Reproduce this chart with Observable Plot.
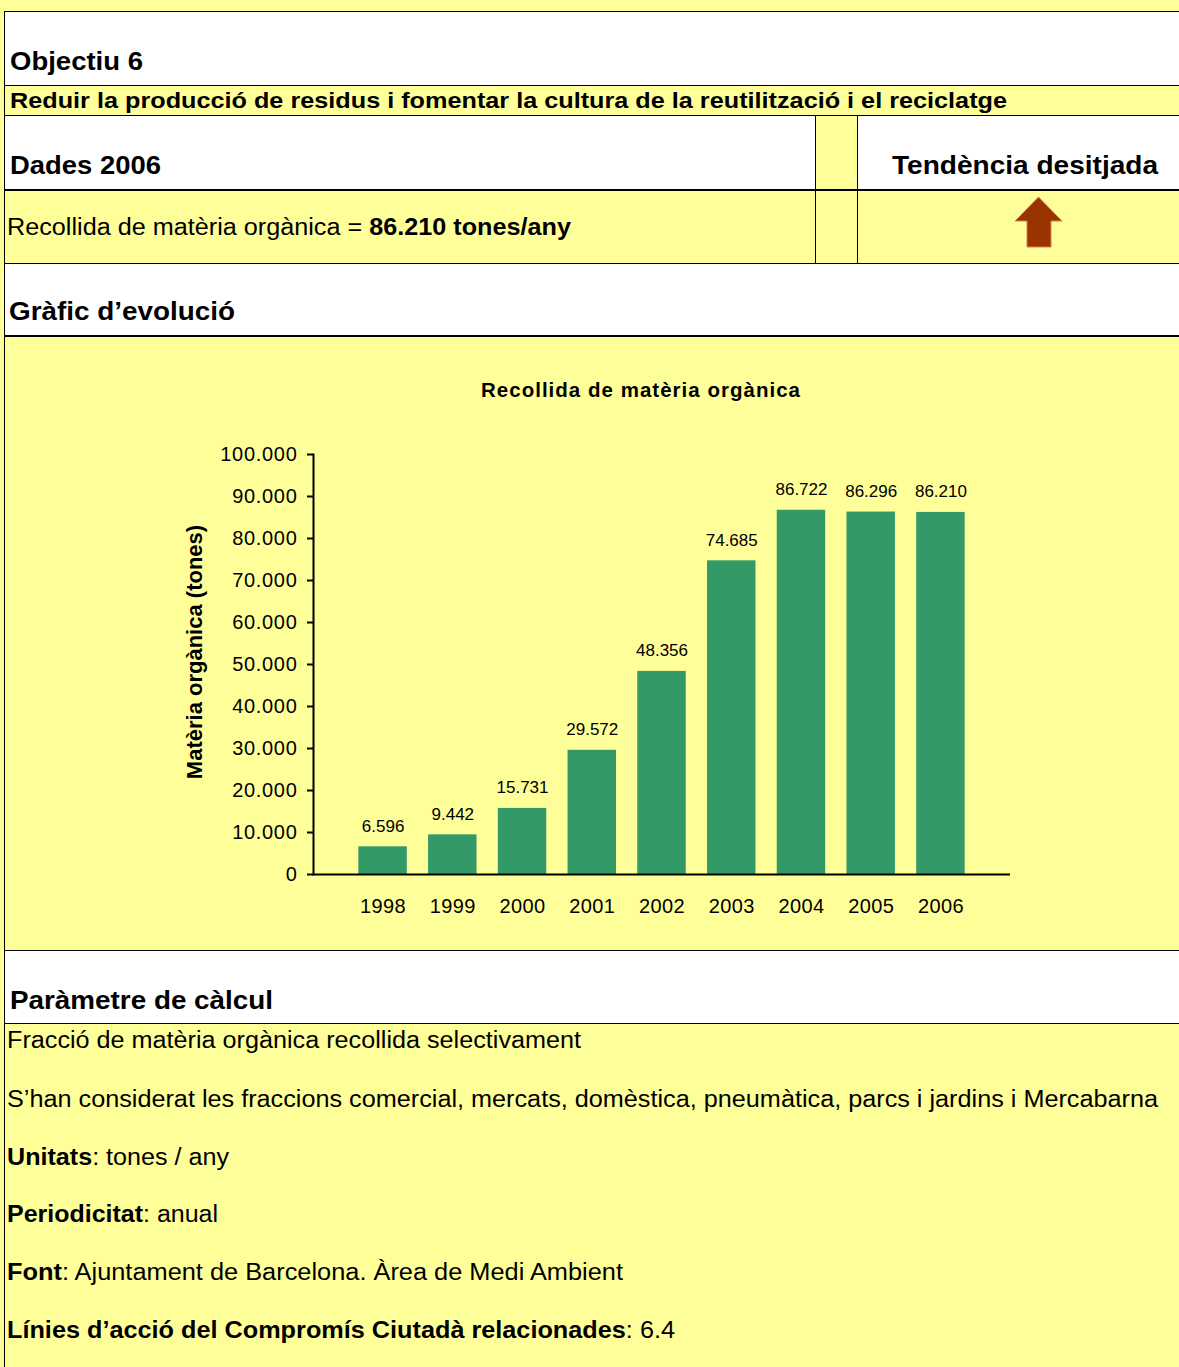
<!DOCTYPE html>
<html>
<head>
<meta charset="utf-8">
<script src="https://cdn.jsdelivr.net/npm/d3@7"></script>
<script src="https://cdn.jsdelivr.net/npm/@observablehq/plot@0.6"></script>
<style>
html, body { margin: 0; padding: 0; }
body { width: 1179px; height: 1367px; background: #FFFF99; position: relative; overflow: hidden;
       font-family: "Liberation Sans", Arial, sans-serif; color: #000; }
.box { position: absolute; background: #fff; }
.ln { position: absolute; background: #000; }
.t { position: absolute; white-space: nowrap; line-height: 1; }
.t > span { display: inline-block; transform-origin: 0 50%; }
#chart { position: absolute; left: 0; top: 338px; }
#chart g[aria-label="y-axis tick label"] text { letter-spacing: 0.7px; }
#chart g[aria-label="x-axis tick label"] text { letter-spacing: 0.4px; }
</style>
</head>
<body>
<script>
// ---------- data ----------
const years = ["1998", "1999", "2000", "2001", "2002", "2003", "2004", "2005", "2006"];
const tonnes = [6596, 9442, 15731, 29572, 48356, 74685, 86722, 86296, 86210];
const yTicks = [0, 10000, 20000, 30000, 40000, 50000, 60000, 70000, 80000, 90000, 100000];
const chartTitle = "Recollida de matèria orgànica";
const yLabel = "Matèria orgànica (tones)";

const objectiveTitle = "Objectiu 6";
const objectiveText = "Reduir la producció de residus i fomentar la cultura de la reutilització i el reciclatge";
const dataHeader = "Dades 2006";
const trendHeader = "Tendència desitjada";
const indicatorLabel = "Recollida de matèria orgànica = ";
const indicatorValue = "86.210 tones/any";
const chartHeader = "Gràfic d’evolució";
const paramHeader = "Paràmetre de càlcul";
const paramLines = [
  "Fracció de matèria orgànica recollida selectivament",
  "S’han considerat les fraccions comercial, mercats, domèstica, pneumàtica, parcs i jardins i Mercabarna"
];
const infoLabels = ["Unitats", "Periodicitat", "Font", "Línies d’acció del Compromís Ciutadà relacionades"];
const infoValues = ["tones / any", "anual", "Ajuntament de Barcelona. Àrea de Medi Ambient", "6.4"];

// ---------- page frame ----------
const body = document.body;
function el(cls, l, t, w, h) {
  const d = document.createElement("div");
  d.className = cls;
  Object.assign(d.style, {left: l + "px", top: t + "px", width: w + "px", height: h + "px"});
  body.appendChild(d);
  return d;
}
// white rows
el("box", 5, 12, 1174, 73);
el("box", 5, 116, 810, 73);
el("box", 858, 116, 321, 73);
el("box", 5, 264, 1174, 72);
el("box", 5, 951, 1174, 72);
// horizontal rules
[[11, 1], [85, 1], [115, 1], [189, 2], [263, 1], [335, 2], [950, 1], [1023, 1]]
  .forEach(([y, h]) => el("ln", 4, y, 1175, h));
// vertical rules
el("ln", 4, 11, 1, 1356);
el("ln", 815, 115, 1, 148);
el("ln", 857, 115, 1, 148);

// arrow icon
const NS = "http://www.w3.org/2000/svg";
const icon = document.createElementNS(NS, "svg");
icon.setAttribute("width", 1179); icon.setAttribute("height", 300);
icon.style.position = "absolute"; icon.style.left = "0"; icon.style.top = "0";
const poly = document.createElementNS(NS, "polygon");
poly.setAttribute("points", "1038.5,197 1062,221 1051,221 1051,247 1027,247 1027,221 1015,221");
poly.setAttribute("fill", "#993300");
poly.setAttribute("stroke", "#D98050");
poly.setAttribute("stroke-width", "1");
icon.appendChild(poly);
body.appendChild(icon);

// ---------- text ----------
function addText(parts, {x, baseline, size, bold, width, spacing}) {
  const d = document.createElement("div");
  d.className = "t";
  d.style.left = x + "px";
  d.style.top = (baseline - 0.8465 * size) + "px";
  d.style.fontSize = size + "px";
  if (spacing) d.style.letterSpacing = spacing + "px";
  const s = document.createElement("span");
  parts.forEach(([txt, b]) => {
    const p = document.createElement("span");
    p.textContent = txt;
    if (b ?? bold) p.style.fontWeight = "bold";
    s.appendChild(p);
  });
  d.appendChild(s);
  body.appendChild(d);
  const w = s.getBoundingClientRect().width;
  s.style.transform = `scaleX(${width / w})`;
}
addText([[objectiveTitle]], {x: 10, baseline: 70, size: 26, bold: true, width: 133});
addText([[objectiveText]], {x: 10, baseline: 108.5, size: 22, bold: true, width: 997});
addText([[dataHeader]], {x: 10, baseline: 174, size: 26, bold: true, width: 151});
addText([[trendHeader]], {x: 892, baseline: 174.5, size: 26, bold: true, width: 266});
addText([[indicatorLabel, false], [indicatorValue, true]], {x: 7, baseline: 235, size: 23, width: 564});
addText([[chartHeader]], {x: 9, baseline: 320.5, size: 26, bold: true, width: 226});
addText([[chartTitle]], {x: 481, baseline: 397, size: 20, bold: true, width: 320, spacing: 1});
addText([[paramHeader]], {x: 10, baseline: 1009, size: 26, bold: true, width: 263});
addText([[paramLines[0]]], {x: 7, baseline: 1048.5, size: 23, width: 574});
addText([[paramLines[1]]], {x: 7, baseline: 1107, size: 23, width: 1151});
const infoLayout = [[1165, 222], [1222.5, 211], [1280.5, 616], [1338.5, 668]];
infoLabels.forEach((lab, i) => {
  addText([[lab, true], [": " + infoValues[i], false]],
          {x: 7, baseline: infoLayout[i][0], size: 23, width: infoLayout[i][1]});
});

// ---------- chart ----------
const data = years.map((year, i) => ({year, value: tonnes[i]}));
const fmt = d3.formatLocale({decimal: ",", thousands: ".", grouping: [3], currency: ["", ""]}).format(",d");

const chart = Plot.plot({
  width: 1179,
  height: 612,
  marginTop: 116,
  marginBottom: 76,
  marginLeft: 313,
  marginRight: 169,
  style: {background: "transparent", fontFamily: "'Liberation Sans', Arial, sans-serif", color: "#000", overflow: "visible"},
  x: {domain: years, paddingInner: 0.305, paddingOuter: 0.65, round: false},
  y: {domain: [0, 100000]},
  marks: [
    Plot.barY(data, {x: "year", y: "value", fill: "#339966"}),
    Plot.ruleY([0], {stroke: "#000", strokeWidth: 2}),
    Plot.frame({anchor: "left", stroke: "#000", strokeWidth: 2}),
    Plot.axisY({ticks: yTicks, tickFormat: fmt, tickSize: 6, tickPadding: 10, fontSize: 20,
                stroke: "#000", strokeWidth: 2, strokeOpacity: 1, label: null}),
    Plot.axisX({tickSize: 0, tickPadding: 24, fontSize: 20, label: null}),
    Plot.text(data, {x: "year", y: "value", text: d => fmt(d.value), dy: -15, lineAnchor: "bottom", fontSize: 17, fill: "#000"}),
    Plot.text([yLabel], {frameAnchor: "left", textAnchor: "middle", rotate: -90, dx: -119, dy: -12.5,
                         fontSize: 22, fontWeight: "bold", fill: "#000"})
  ]
});
chart.id = "chart";
body.appendChild(chart);
</script>
</body>
</html>
